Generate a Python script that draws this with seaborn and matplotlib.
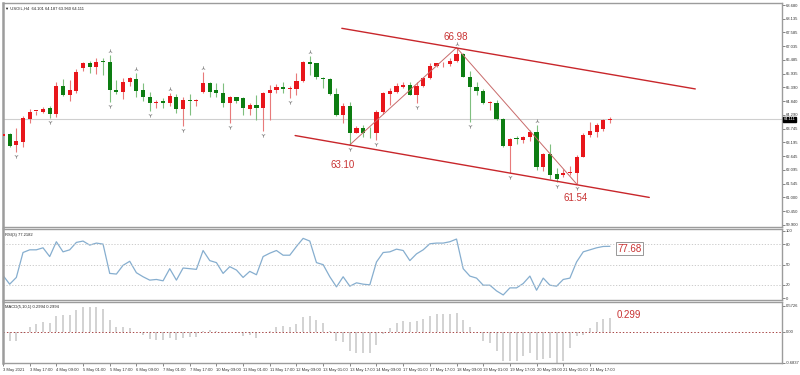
import numpy as np
import pandas as pd
import matplotlib
matplotlib.use("Agg")
import matplotlib.pyplot as plt
import matplotlib.transforms as mtransforms
import seaborn as sns

# USOIL H4 candles
opens = [63.44, 63.52, 63.10, 63.20, 64.14, 64.45, 64.42, 64.56, 64.33, 65.46,
         65.09, 65.26, 66.18, 66.38, 66.22, 66.42, 66.42, 65.29, 65.22, 65.62,
         65.73, 65.29, 65.02, 64.78, 64.85, 64.78, 65.02, 64.52, 64.89, 64.85,
         65.22, 65.58, 65.29, 65.18, 64.76, 64.99, 64.96, 64.53, 64.69, 64.58,
         65.16, 65.29, 65.42, 65.32, 65.32, 65.66, 66.42, 66.35, 65.76, 65.72,
         65.13, 64.29, 64.65, 63.59, 63.76, 63.58, 63.56, 64.42, 65.13, 65.22,
         65.42, 65.49, 65.09, 65.46, 65.76, 66.25, 66.31, 66.33, 66.46, 66.73,
         65.82, 65.40, 65.26, 64.76, 64.76, 64.12, 63.05, 63.35, 63.29, 63.43,
         63.63, 62.23, 62.73, 61.93, 61.90, 61.99, 61.99, 62.63, 63.49, 63.63,
         63.72, 64.10]
highs = [64.09, 63.56, 63.77, 64.25, 64.52, 64.46, 64.62, 64.65, 65.62, 65.72,
         65.69, 66.11, 66.42, 66.46, 66.55, 66.57, 66.69, 65.69, 65.76, 65.80,
         65.95, 65.56, 65.20, 64.89, 64.96, 65.18, 65.13, 65.02, 65.12, 64.93,
         66.02, 65.62, 65.58, 65.58, 65.05, 65.02, 65.02, 64.76, 65.09, 65.22,
         65.49, 65.53, 65.62, 65.45, 65.98, 66.46, 66.65, 66.38, 65.82, 65.76,
         65.36, 64.76, 64.82, 63.85, 63.89, 63.82, 64.49, 65.22, 65.36, 65.56,
         65.62, 65.62, 65.62, 65.82, 66.35, 66.38, 66.42, 66.55, 66.98, 66.75,
         66.06, 65.62, 65.32, 64.85, 64.89, 64.16, 63.36, 63.45, 63.45, 63.69,
         63.89, 62.79, 63.13, 62.17, 62.12, 62.26, 62.70, 63.56, 64.02, 63.96,
         64.12, 64.19]
lows = [63.40, 63.03, 62.83, 63.00, 63.96, 64.29, 64.36, 64.16, 64.20, 65.05,
        64.86, 65.16, 66.06, 65.98, 65.93, 65.89, 64.82, 65.13, 64.92, 65.45,
        65.02, 64.86, 64.46, 64.56, 64.56, 64.65, 64.36, 63.85, 64.29, 64.66,
        65.16, 65.02, 65.02, 64.62, 63.96, 64.76, 64.29, 64.29, 64.09, 63.66,
        64.09, 65.18, 65.16, 64.96, 65.09, 65.62, 65.89, 65.72, 65.36, 65.09,
        64.25, 63.98, 63.10, 63.56, 63.43, 63.36, 63.29, 64.33, 64.69, 65.16,
        65.36, 65.09, 64.78, 65.42, 65.72, 66.19, 66.22, 66.25, 66.42, 65.80,
        64.02, 65.09, 64.73, 64.49, 64.09, 63.03, 61.97, 63.13, 63.19, 63.25,
        62.10, 62.07, 61.73, 61.63, 61.83, 61.90, 61.54, 62.60, 63.43, 63.43,
        63.66, 63.96]
closes = [63.52, 63.07, 63.25, 64.16, 64.42, 64.46, 64.53, 64.33, 65.46, 65.09,
          65.29, 66.02, 66.35, 66.22, 66.42, 66.40, 65.29, 65.22, 65.62, 65.76,
          65.26, 65.02, 64.78, 64.82, 64.78, 65.05, 64.53, 64.89, 64.85, 64.86,
          65.58, 65.22, 65.18, 64.76, 64.99, 64.86, 64.56, 64.69, 64.58, 65.16,
          65.29, 65.42, 65.32, 65.36, 65.66, 66.42, 66.33, 65.80, 65.72, 65.13,
          64.29, 64.65, 63.59, 63.76, 63.56, 63.56, 64.42, 65.16, 65.25, 65.46,
          65.49, 65.09, 65.46, 65.76, 66.25, 66.35, 66.33, 66.46, 66.73, 65.82,
          65.40, 65.26, 64.76, 64.82, 64.12, 63.05, 63.32, 63.33, 63.43, 63.63,
          62.23, 62.73, 61.90, 61.74, 61.99, 62.02, 62.63, 63.49, 63.67, 63.89,
          64.09, 64.111]

rsi_values = [34, 21, 31, 68, 72, 72, 75, 62, 84, 69,
              72, 83, 85, 79, 82, 80.5, 37, 36, 49, 55,
              38, 32, 27, 28, 26, 44, 27, 45, 44, 43,
              71, 56, 53, 37, 47, 42, 31, 40, 35, 62,
              67, 71, 64, 64, 77, 89, 85, 53, 50, 32,
              17, 32, 18, 23, 21, 20, 54, 68, 69, 73,
              71, 56, 66, 72, 81, 82, 82, 84, 88, 44,
              33, 30, 19.5, 19.5, 11, 5, 15.5, 15.5, 22, 33,
              12, 30, 19.5, 18, 28, 30, 54, 69, 72, 75,
              77, 77.2]

macd_values = [-0.14, -0.21, -0.20, -0.04, 0.09, 0.16, 0.20, 0.18, 0.34, 0.36,
               0.36, 0.47, 0.55, 0.55, 0.53, 0.50, 0.26, 0.11, 0.09, 0.07,
               0.00, -0.07, -0.16, -0.18, -0.19, -0.14, -0.19, -0.14, -0.11, -0.11,
               0.02, 0.04, 0.01, -0.03, -0.01, -0.04, -0.09, -0.07, -0.13, -0.02,
               0.01, 0.09, 0.12, 0.11, 0.16, 0.32, 0.34, 0.26, 0.18, 0.02,
               -0.21, -0.23, -0.43, -0.47, -0.47, -0.48, -0.29, -0.06, 0.07, 0.18,
               0.23, 0.20, 0.23, 0.27, 0.34, 0.39, 0.39, 0.39, 0.41, 0.25,
               0.09, -0.04, -0.20, -0.26, -0.43, -0.64, -0.64, -0.64, -0.54, -0.46,
               -0.62, -0.61, -0.58, -0.69, -0.64, -0.36, -0.10, -0.08, 0.07, 0.21,
               0.28, 0.30]

date_labels = ["3 May 2021", "3 May 17:00", "4 May 09:00", "5 May 01:00", "5 May 17:00",
               "6 May 09:00", "7 May 01:00", "7 May 17:00", "10 May 09:00", "11 May 01:00",
               "11 May 17:00", "12 May 09:00", "13 May 01:00", "13 May 17:00", "14 May 09:00",
               "17 May 01:00", "17 May 17:00", "18 May 09:00", "19 May 01:00", "19 May 17:00",
               "20 May 09:00", "21 May 01:00", "21 May 17:00"]
price_ticks = [68.680, 68.135, 67.585, 67.035, 66.485, 65.935, 65.390, 64.840, 64.290,
               63.745, 63.195, 62.645, 62.095, 61.545, 61.000, 60.450, 59.900]
rsi_ticks = [100, 80, 50, 20, 0]
macd_ticks = [0.5726, 0.0, -0.6837]

# fractal arrows and the drawn analysis
up_fractals = [16, 20, 25, 30, 46, 68, 80]
down_fractals = [2, 7, 16, 22, 27, 34, 39, 43, 52, 56, 62, 70, 76, 83, 86]
zigzag_bars = [52, 68, 86]
zigzag_prices = [63.10, 66.98, 61.54]
upper_channel_bars = [50.8, 103.8]
upper_channel_prices = [67.75, 65.33]
lower_channel_bars = [43.8, 96.9]
lower_channel_prices = [63.47, 61.00]
swing_labels = ["66.98", "63.10", "61.54"]
swing_label_bars = [67.9, 50.9, 85.9]
swing_label_prices = [67.40, 62.28, 60.98]

RED = "#e8161b"
GREEN = "#0d7d12"
LINE_RED = "#c8262b"
FRAME = "#9c9c9c"

sns.set_theme(style="white")
plt.rcParams['font.family'] = ['Liberation Sans', 'DejaVu Sans']

df = pd.DataFrame({"open": opens, "high": highs, "low": lows, "close": closes})
df["bar"] = np.arange(len(df))
df["up"] = df["close"] >= df["open"]

fig = plt.figure(figsize=(8, 3.75), dpi=100)
fig.patch.set_facecolor("white")
ax = fig.add_axes([0.00375, 0.3947, 0.97375, 0.5973])
ax_rsi = fig.add_axes([0.00375, 0.2, 0.97375, 0.1893], sharex=ax)
ax_macd = fig.add_axes([0.00375, 0.032, 0.97375, 0.1627], sharex=ax)

for a in (ax, ax_rsi, ax_macd):
    for s in a.spines.values():
        s.set_color(FRAME)
        s.set_linewidth(1.0)
    a.spines["left"].set_linewidth(1.8)
    a.yaxis.tick_right()
    a.tick_params(axis="y", labelsize=3, length=2, width=0.5, color="#555555",
                  labelcolor="#333333", pad=1)
    a.set_facecolor("white")

# --- price panel ---
colors = np.where(df["up"], RED, GREEN)
wick_colors = np.where(df["up"], "#e87a7a", "#7fbf7f")
ax.vlines(df["bar"], df["low"], df["high"], colors=wick_colors, linewidth=0.8, zorder=2)
body_bottom = df[["open", "close"]].min(axis=1)
body_height = (df["close"] - df["open"]).abs().clip(lower=0.03)
ax.bar(df["bar"], body_height, bottom=body_bottom, width=0.62, color=colors,
       linewidth=0, zorder=3)

ax.axhline(closes[-1], color="#cfcfcf", linewidth=0.8, zorder=1)

ax.plot(df["bar"].iloc[up_fractals], df["high"].iloc[up_fractals] + 0.16,
        linestyle="none", marker="2", markersize=3, color="#8a8a8a", mew=0.6)
ax.plot(df["bar"].iloc[down_fractals], df["low"].iloc[down_fractals] - 0.16,
        linestyle="none", marker="1", markersize=3, color="#8a8a8a", mew=0.6)

sns.lineplot(x=zigzag_bars, y=zigzag_prices, ax=ax, color="#c86a6a", linewidth=0.7, zorder=4)
sns.lineplot(x=upper_channel_bars, y=upper_channel_prices, ax=ax, color=LINE_RED,
             linewidth=1.0, zorder=4)
sns.lineplot(x=lower_channel_bars, y=lower_channel_prices, ax=ax, color=LINE_RED,
             linewidth=1.0, zorder=4)
for txt, bx, py in zip(swing_labels, swing_label_bars, swing_label_prices):
    ax.text(bx, py, txt, ha="center", va="center", fontsize=7, color="#c83232")

ax.set_xlim(0.0, 116.8)
ax.set_ylim(59.82, 68.76)
ax.set_yticks(price_ticks)
ax.set_yticklabels([f"{p:.3f}" for p in price_ticks])
ax.tick_params(axis="x", bottom=False, labelbottom=False)

trans = mtransforms.blended_transform_factory(ax.transAxes, ax.transData)
ax.text(1.002, closes[-1], f"{closes[-1]:.3f}", transform=trans, fontsize=3,
        color="white", va="center", ha="left",
        bbox=dict(boxstyle="square,pad=0.15", fc="black", ec="black"))
ax.text(0.003, 0.985, "\u25bc USOIL,H4  64.101 64.187 63.960 64.111", transform=ax.transAxes,
        fontsize=3, color="#222222", va="top", ha="left")

# --- RSI panel ---
bars = np.arange(len(rsi_values))
sns.lineplot(x=bars, y=rsi_values, ax=ax_rsi, color="#86aecf", linewidth=0.9)
for lvl in (80, 50, 20):
    ax_rsi.axhline(lvl, color="#c4c4c4", linewidth=0.6, linestyle=(0, (1.5, 2)))
ax_rsi.set_ylim(-2.5, 102.9)
ax_rsi.set_yticks(rsi_ticks)
ax_rsi.set_yticklabels([str(t) for t in rsi_ticks])
ax_rsi.tick_params(axis="x", bottom=False, labelbottom=False)
ax_rsi.text(0.003, 0.95, "RSI(3) 77.2182", transform=ax_rsi.transAxes, fontsize=3,
            color="#222222", va="top", ha="left")
ax_rsi.text(93.9, 73.9, "77.68", ha="center", va="center", fontsize=7, color="#c83232",
            bbox=dict(boxstyle="square,pad=0.12", fc="white", ec="#888888", lw=0.6))
ax_rsi.set_ylabel("")

# --- MACD panel ---
ax_macd.vlines(bars, 0, macd_values, colors="#c6c6c6", linewidth=1.1)
ax_macd.axhline(0, color="#a84848", linewidth=0.7, linestyle=(0, (1.5, 2)))
ax_macd.set_ylim(-0.69, 0.65)
ax_macd.set_yticks(macd_ticks)
ax_macd.set_yticklabels(["0.5726", "0.00", "-0.6837"])
ax_macd.text(0.003, 0.95, "MACD(5,10,1) 0.2994 0.2994", transform=ax_macd.transAxes,
             fontsize=3, color="#222222", va="top", ha="left")
ax_macd.text(93.9, 0.36, "0.299", ha="center", va="center", fontsize=7, color="#c83232")

tick_pos = np.arange(len(date_labels)) * 4
ax_macd.set_xticks(tick_pos)
ax_macd.set_xticklabels(date_labels, ha="left")
ax_macd.tick_params(axis="x", labelsize=3, length=2, width=0.5, color="#555555",
                    labelcolor="#333333", pad=1.5, bottom=True)
ax_macd.set_xlim(0.0, 116.8)

fig.savefig("out.png", dpi=100, facecolor="white")
